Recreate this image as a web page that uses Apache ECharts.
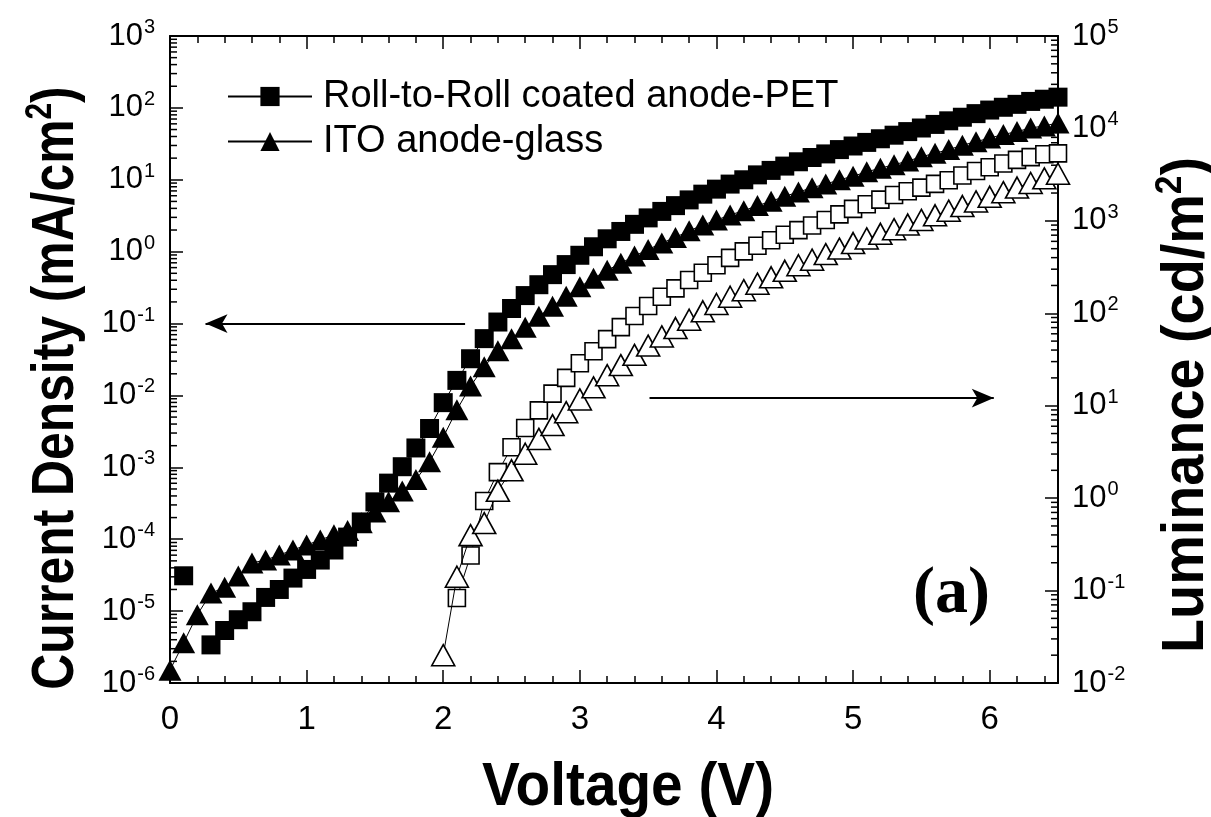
<!DOCTYPE html>
<html>
<head>
<meta charset="utf-8">
<script src="https://cdn.jsdelivr.net/npm/echarts@6/dist/echarts.min.js"></script>
<style>
html,body{margin:0;padding:0;background:#fff;}
#chart{width:1211px;height:817px;}
</style>
</head>
<body>
<div id="chart"></div>
<script>
// ---------- DATA ----------
const r2rJ_V = [0.1,0.2,0.3,0.4,0.5,0.6,0.7,0.8,0.9,1.0,1.1,1.2,1.3,1.4,1.5,1.6,1.7,1.8,1.9,2.0,2.1,2.2,2.3,2.4,2.5,2.6,2.7,2.8,2.9,3.0,3.1,3.2,3.3,3.4,3.5,3.6,3.7,3.8,3.9,4.0,4.1,4.2,4.3,4.4,4.5,4.6,4.7,4.8,4.9,5.0,5.1,5.2,5.3,5.4,5.5,5.6,5.7,5.8,5.9,6.0,6.1,6.2,6.3,6.4,6.5];
const r2rJ = [3.1e-5,null,3.39e-6,5.37e-6,7.59e-6,9.8e-6,1.55e-5,2.0e-5,2.88e-5,3.8e-5,5.13e-5,7.08e-5,1.07e-4,1.74e-4,3.31e-4,6.03e-4,1.02e-3,1.86e-3,3.47e-3,7.94e-3,1.62e-2,3.24e-2,6.17e-2,0.105,0.162,0.245,0.347,0.479,0.661,0.891,1.17,1.51,1.91,2.40,2.95,3.63,4.37,5.25,6.31,7.41,8.71,10.0,11.7,13.5,15.5,17.8,20.4,22.9,26.3,29.5,33.1,37.2,41.7,46.8,52.5,58.9,66.1,74.1,83.2,93.3,102,112,123,132,141];

const itoJ_V = [0.0,0.1,0.2,0.3,0.4,0.5,0.6,0.7,0.8,0.9,1.0,1.1,1.2,1.3,1.4,1.5,1.6,1.7,1.8,1.9,2.0,2.1,2.2,2.3,2.4,2.5,2.6,2.7,2.8,2.9,3.0,3.1,3.2,3.3,3.4,3.5,3.6,3.7,3.8,3.9,4.0,4.1,4.2,4.3,4.4,4.5,4.6,4.7,4.8,4.9,5.0,5.1,5.2,5.3,5.4,5.5,5.6,5.7,5.8,5.9,6.0,6.1,6.2,6.3,6.4,6.5];
const itoJ = [1.51e-6,3.63e-6,8.91e-6,1.78e-5,2.14e-5,3.09e-5,4.68e-5,5.13e-5,6.03e-5,7.08e-5,8.32e-5,9.77e-5,1.15e-4,1.32e-4,1.70e-4,2.40e-4,3.31e-4,4.68e-4,6.76e-4,1.20e-3,2.63e-3,6.31e-3,1.35e-2,2.51e-2,4.17e-2,6.17e-2,8.91e-2,0.126,0.174,0.240,0.324,0.427,0.550,0.692,0.871,1.07,1.32,1.58,1.95,2.34,2.75,3.24,3.72,4.37,5.01,5.89,6.76,7.76,8.71,10.0,11.2,12.9,14.5,16.2,18.2,20.9,23.4,26.3,30.2,33.9,38.0,42.7,46.8,52.5,56.2,61.7];

const r2rL_V = [2.1,2.2,2.3,2.4,2.5,2.6,2.7,2.8,2.9,3.0,3.1,3.2,3.3,3.4,3.5,3.6,3.7,3.8,3.9,4.0,4.1,4.2,4.3,4.4,4.5,4.6,4.7,4.8,4.9,5.0,5.1,5.2,5.3,5.4,5.5,5.6,5.7,5.8,5.9,6.0,6.1,6.2,6.3,6.4,6.5];
const r2rL = [0.0832,0.240,0.933,1.91,3.55,5.75,8.91,13.5,20.0,28.8,38.9,52.5,70.8,93.3,120,151,186,229,275,331,398,468,537,617,708,794,891,1023,1175,1349,1514,1698,1905,2089,2291,2512,2754,3090,3467,3802,4169,4571,4898,5248,5370];

const itoL_V = [2.0,2.1,2.2,2.3,2.4,2.5,2.6,2.7,2.8,2.9,3.0,3.1,3.2,3.3,3.4,3.5,3.6,3.7,3.8,3.9,4.0,4.1,4.2,4.3,4.4,4.5,4.6,4.7,4.8,4.9,5.0,5.1,5.2,5.3,5.4,5.5,5.6,5.7,5.8,5.9,6.0,6.1,6.2,6.3,6.4,6.5];
const itoL = [0.020,0.141,0.398,0.537,1.20,2.0,3.02,4.37,6.17,8.51,11.7,15.8,21.4,27.5,35.5,44.7,56.2,69.2,85.1,105,126,151,178,209,245,288,331,380,437,501,575,646,724,813,912,1023,1148,1288,1445,1622,1820,2042,2291,2570,2884,3236];

const xTicks = [0,1,2,3,4,5,6];
const leftDecades = [-6,-5,-4,-3,-2,-1,0,1,2,3];
const rightDecades = [-2,-1,0,1,2,3,4,5];
const legendNames = ['Roll-to-Roll coated anode-PET','ITO anode-glass'];
const xTitle = 'Voltage (V)';
const leftTitle = ['Current Density (mA/cm','2',')'];
const rightTitle = ['Luminance (cd/m','2',')'];
const panelLabel = '(a)';
// annotation arrows (data coordinates)
const arrowLeft = [[2.16,0.1],[0.26,0.1]];
const arrowRight = [[3.51,0.0092],[6.03,0.0092]];

// ---------- BUILD ----------
const zip = (a,b) => a.map((v,i)=>[v,b[i]]);
function minorVals(decs){
  const out=[];
  for(let i=0;i<decs.length-1;i++){
    for(let m=2;m<=9;m++) out.push([0, m*Math.pow(10,decs[i])]);
  }
  return out;
}
const FONT = '"Liberation Sans",Arial,sans-serif';
const supFmt = v => {
  const e = Math.round(Math.log10(v));
  return '{b|10}{s|' + e + '}';
};
const richLab = {
  b:{fontSize:31,fontFamily:FONT,color:'#000',lineHeight:36},
  s:{fontSize:20,fontFamily:FONT,color:'#000',lineHeight:36,padding:[0,0,17,1]}
};
const titleRich = {
  t:{fontSize:60,fontWeight:'bold',fontFamily:FONT,color:'#000',lineHeight:64},
  u:{fontSize:36,fontWeight:'bold',fontFamily:FONT,color:'#000',lineHeight:64,padding:[0,0,30,0]}
};

const chart = echarts.init(document.getElementById('chart'));
const minorTickSeries = (yIdx, decs, side) => ({
  type:'custom', xAxisIndex:0, yAxisIndex:yIdx, silent:true, clip:false, z:1,
  data: minorVals(decs),
  renderItem:(params, api)=>{
    const cs = params.coordSys;
    const p = api.coord([api.value(0), api.value(1)]);
    const len = 7;
    const x0 = side==='left' ? cs.x : cs.x + cs.width;
    const x1 = side==='left' ? cs.x + len : cs.x + cs.width - len;
    return {type:'line', shape:{x1:x0,y1:p[1],x2:x1,y2:p[1]}, style:{stroke:'#000',lineWidth:1.5}};
  }
});

const option = {
  animation:false,
  backgroundColor:'#fff',
  grid:{left:170,right:153,top:36,bottom:134,containLabel:false},
  legend:{
    data:legendNames, orient:'vertical', left:222, top:71,
    itemWidth:84, itemHeight:24, itemGap:4,
    textStyle:{fontSize:38,fontFamily:FONT,color:'#000',lineHeight:41,padding:[0,0,0,6]},
    selectedMode:false
  },
  xAxis:[
    {type:'value',min:0,max:6.5,interval:1,position:'bottom',
     axisLine:{show:true,onZero:false,lineStyle:{color:'#000',width:2}},
     axisTick:{show:true,inside:true,length:13,lineStyle:{width:1.5,color:'#000'}},
     minorTick:{show:true,splitNumber:5,length:7,lineStyle:{width:1.5,color:'#000'}},
     axisLabel:{fontSize:33,fontFamily:FONT,color:'#000',margin:20,
       formatter:v=> xTicks.includes(v)? String(v):''},
     splitLine:{show:false}},
    {type:'value',min:0,max:6.5,interval:1,position:'top',
     axisLine:{show:true,onZero:false,lineStyle:{color:'#000',width:2}},
     axisTick:{show:true,inside:true,length:13,lineStyle:{width:1.5,color:'#000'}},
     minorTick:{show:true,splitNumber:5,length:7,lineStyle:{width:1.5,color:'#000'}},
     axisLabel:{show:false},splitLine:{show:false}}
  ],
  yAxis:[
    {type:'log',logBase:10,min:1e-6,max:1e3,splitNumber:9,position:'left',
     axisLine:{show:true,onZero:false,lineStyle:{color:'#000',width:2}},
     axisTick:{show:true,inside:true,length:13,lineStyle:{width:1.5,color:'#000'}},
     axisLabel:{formatter:supFmt,rich:richLab,margin:15},
     splitLine:{show:false}},
    {type:'log',logBase:10,min:1e-2,max:1e5,splitNumber:7,position:'right',
     axisLine:{show:true,onZero:false,lineStyle:{color:'#000',width:2}},
     axisTick:{show:true,inside:true,length:13,lineStyle:{width:1.5,color:'#000'}},
     axisLabel:{formatter:supFmt,rich:richLab,margin:14},
     splitLine:{show:false}}
  ],
  series:[
    minorTickSeries(0, leftDecades, 'left'),
    minorTickSeries(1, rightDecades, 'right'),
    {name:legendNames[0],type:'line',xAxisIndex:0,yAxisIndex:0,data:zip(r2rJ_V,r2rJ),
     symbol:'rect',symbolSize:19,showSymbol:true,connectNulls:false,
     lineStyle:{color:'#000',width:1},itemStyle:{color:'#000',borderColor:'#000',borderWidth:0},
     z:3,
     markLine:{silent:true,symbol:['none','arrow'],symbolSize:[14,22],label:{show:false},
       lineStyle:{color:'#000',width:2,type:'solid'},
       data:[
         [{coord:arrowLeft[0]},{coord:arrowLeft[1]}],
         [{coord:arrowRight[0]},{coord:arrowRight[1]}]
       ]}},
    {name:legendNames[1],type:'line',xAxisIndex:0,yAxisIndex:0,data:zip(itoJ_V,itoJ),
     symbol:'triangle',symbolSize:[23,21],showSymbol:true,
     lineStyle:{color:'#000',width:1},itemStyle:{color:'#000',borderColor:'#000',borderWidth:0},
     z:4},
    {name:'R2R luminance',type:'line',xAxisIndex:0,yAxisIndex:1,data:zip(r2rL_V,r2rL),
     symbol:'rect',symbolSize:17,showSymbol:true,
     lineStyle:{color:'#000',width:1},itemStyle:{color:'#fff',borderColor:'#000',borderWidth:1.6},
     z:3},
    {name:'ITO luminance',type:'line',xAxisIndex:0,yAxisIndex:1,data:zip(itoL_V,itoL),
     symbol:'triangle',symbolSize:[23,21],showSymbol:true,
     lineStyle:{color:'#000',width:1},itemStyle:{color:'#fff',borderColor:'#000',borderWidth:1.6},
     z:4}
  ],
  graphic:[
    {type:'text',left:913,top:562,style:{text:panelLabel,font:'bold 66px "Liberation Serif","Times New Roman",serif',fill:'#000'}},
    {type:'text',x:628,y:788,scaleX:0.93,
     style:{text:xTitle,font:'bold 61px '+FONT,fill:'#000',align:'center',verticalAlign:'middle'}},
    {type:'text',x:56,y:388,rotation:Math.PI/2,scaleX:0.83,
     style:{text:'{t|'+leftTitle[0]+'}{u|'+leftTitle[1]+'}{t|'+leftTitle[2]+'}',rich:titleRich,align:'center',verticalAlign:'middle'}},
    {type:'text',x:1186,y:405,rotation:Math.PI/2,scaleX:0.93,
     style:{text:'{t|'+rightTitle[0]+'}{u|'+rightTitle[1]+'}{t|'+rightTitle[2]+'}',rich:titleRich,align:'center',verticalAlign:'middle'}}
  ]
};
chart.setOption(option);
</script>
</body>
</html>
